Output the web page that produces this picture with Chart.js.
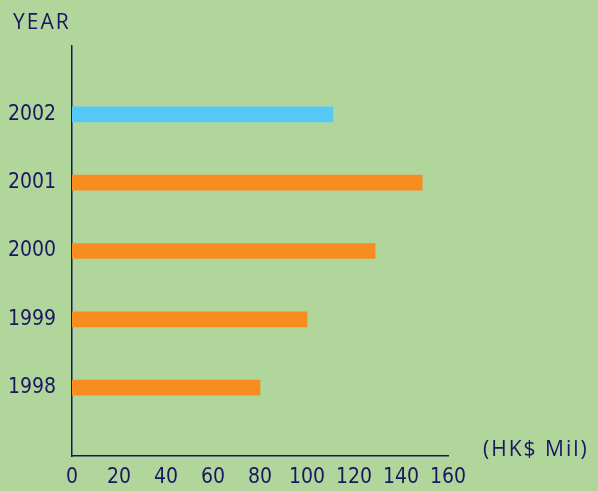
<!DOCTYPE html>
<html>
<head>
<meta charset="utf-8">
<script src="https://cdn.jsdelivr.net/npm/chart.js@4"></script>
<style>
  html, body { margin: 0; padding: 0; background: #b0d69c; }
  #wrap { width: 598px; height: 491px; }
</style>
</head>
<body>
<div id="wrap"><canvas id="chart" width="598" height="491"></canvas></div>
<script>
// Данные графика
const years = ['2002', '2001', '2000', '1999', '1998'];
const amounts = [111, 149, 129, 100, 80];
const barColors = ['#55c9f5', '#f78d1f', '#f78d1f', '#f78d1f', '#f78d1f'];
const xTicks = [0, 20, 40, 60, 80, 100, 120, 140, 160];
const yTitle = 'YEAR';
const xTitle = '(HK$ Mil)';

const navy = '#1b1660';
const numFont = "'DejaVu Sans Condensed', sans-serif";
const txtFont = "'Open Sans', sans-serif";

// пустые места сверху и снизу оси
const labels = [''].concat(years, ['']);
const values = [null].concat(amounts, [null]);
const colors = ['rgba(0,0,0,0)'].concat(barColors, ['rgba(0,0,0,0)']);

// Подписи осей
const axisTitles = {
  id: 'axisTitles',
  afterDraw(chart) {
    const ctx = chart.ctx;
    ctx.save();
    ctx.fillStyle = navy;
    ctx.font = '21px ' + txtFont;
    ctx.letterSpacing = '2px';
    ctx.textBaseline = 'alphabetic';
    ctx.textAlign = 'left';
    ctx.fillText(yTitle, 13, 29);
    ctx.fillText(xTitle, 483, 456);
    ctx.restore();
  }
};

new Chart(document.getElementById('chart'), {
  type: 'bar',
  data: {
    labels: labels,
    datasets: [{
      data: values,
      backgroundColor: colors,
      barThickness: 15,
      borderWidth: 0
    }]
  },
  options: {
    indexAxis: 'y',
    responsive: false,
    animation: false,
    layout: { padding: { top: 46, right: 150, left: 0, bottom: 0 } },
    plugins: { legend: { display: false }, tooltip: { enabled: false } },
    scales: {
      x: {
        min: 0,
        max: 160,
        afterBuildTicks(scale) { scale.ticks = xTicks.map(v => ({ value: v })); },
        afterFit(scale) { scale.height = 35; },
        grid: { display: false, drawTicks: false },
        border: { display: true, color: navy, width: 1.5 },
        ticks: { color: navy, font: { size: 21, family: numFont }, padding: 9, maxRotation: 0, autoSkip: false }
      },
      y: {
        offset: false,
        afterFit(scale) { scale.width = 72; },
        grid: { display: false, drawTicks: false },
        border: { display: true, color: navy, width: 1.5 },
        ticks: { color: navy, font: { size: 21, family: numFont }, padding: 16, autoSkip: false }
      }
    }
  },
  plugins: [axisTitles]
});
</script>
</body>
</html>
